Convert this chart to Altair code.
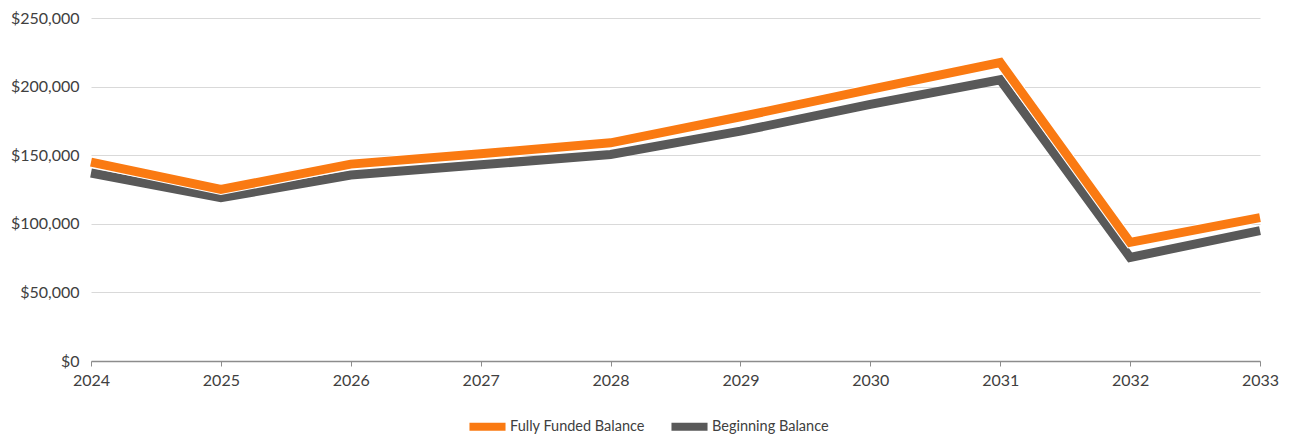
import altair as alt
import pandas as pd

years = [2024, 2025, 2026, 2027, 2028, 2029, 2030, 2031, 2032, 2033]
fully_funded = [145000, 125000, 143500, 151000, 159000, 178000, 198000, 217500, 86500, 104500]
beginning = [137000, 119000, 135500, 143000, 150500, 167500, 187000, 205000, 75500, 95000]
series_names = ["Fully Funded Balance", "Beginning Balance"]
series_colors = ["#FA7A12", "#595959"]

df = pd.concat([
    pd.DataFrame({"year": years, "value": fully_funded, "series": series_names[0]}),
    pd.DataFrame({"year": years, "value": beginning, "series": series_names[1]}),
])

FONT = "Lato"
FS = 16
x_enc = alt.X("year:O", scale=alt.Scale(type="point", padding=0), title=None,
              axis=alt.Axis(labelAngle=0, labelFontSize=FS, labelColor="#404040", labelFont=FONT,
                            domainColor="#8C8C8C", domainWidth=1.5, tickColor="#8C8C8C",
                            tickSize=5, labelPadding=6, grid=False))
y_enc = alt.Y("value:Q", scale=alt.Scale(domain=[0, 250000], nice=False), title=None,
              axis=alt.Axis(values=[0, 50000, 100000, 150000, 200000, 250000], format="$,.0f",
                            labelFontSize=FS, labelColor="#404040", labelFont=FONT,
                            domain=False, ticks=False, gridColor="#D9D9D9", labelPadding=12))

color = alt.Color("series:N", scale=alt.Scale(domain=series_names, range=series_colors),
                  legend=alt.Legend(title=None, orient="none", legendX=374, legendY=386,
                                    direction="horizontal", symbolType="stroke",
                                    symbolSize=1300, symbolStrokeWidth=8, labelOffset=0,
                                    labelFontSize=14.5, labelFont=FONT, labelColor="#404040",
                                    columnPadding=10))

base = alt.Chart(df)
grey = base.transform_filter(alt.datum.series == series_names[1]).mark_line(strokeWidth=9, strokeJoin="miter").encode(x=x_enc, y=y_enc, color=color)
halo = base.transform_filter(alt.datum.series == series_names[0]).mark_line(strokeWidth=11, color="white", strokeJoin="miter").encode(x=x_enc, y=y_enc)
orange = base.transform_filter(alt.datum.series == series_names[0]).mark_line(strokeWidth=9, strokeJoin="miter").encode(x=x_enc, y=y_enc, color=color)

chart = alt.layer(grey, halo, orange).properties(
    width=1169, height=343,
    autosize=alt.AutoSizeParams(type="none"),
    padding={"left": 83, "top": 10, "right": 21, "bottom": 76},
).configure_view(stroke=None)

chart.save("out.html", embed_options={"renderer": "svg", "actions": False})
